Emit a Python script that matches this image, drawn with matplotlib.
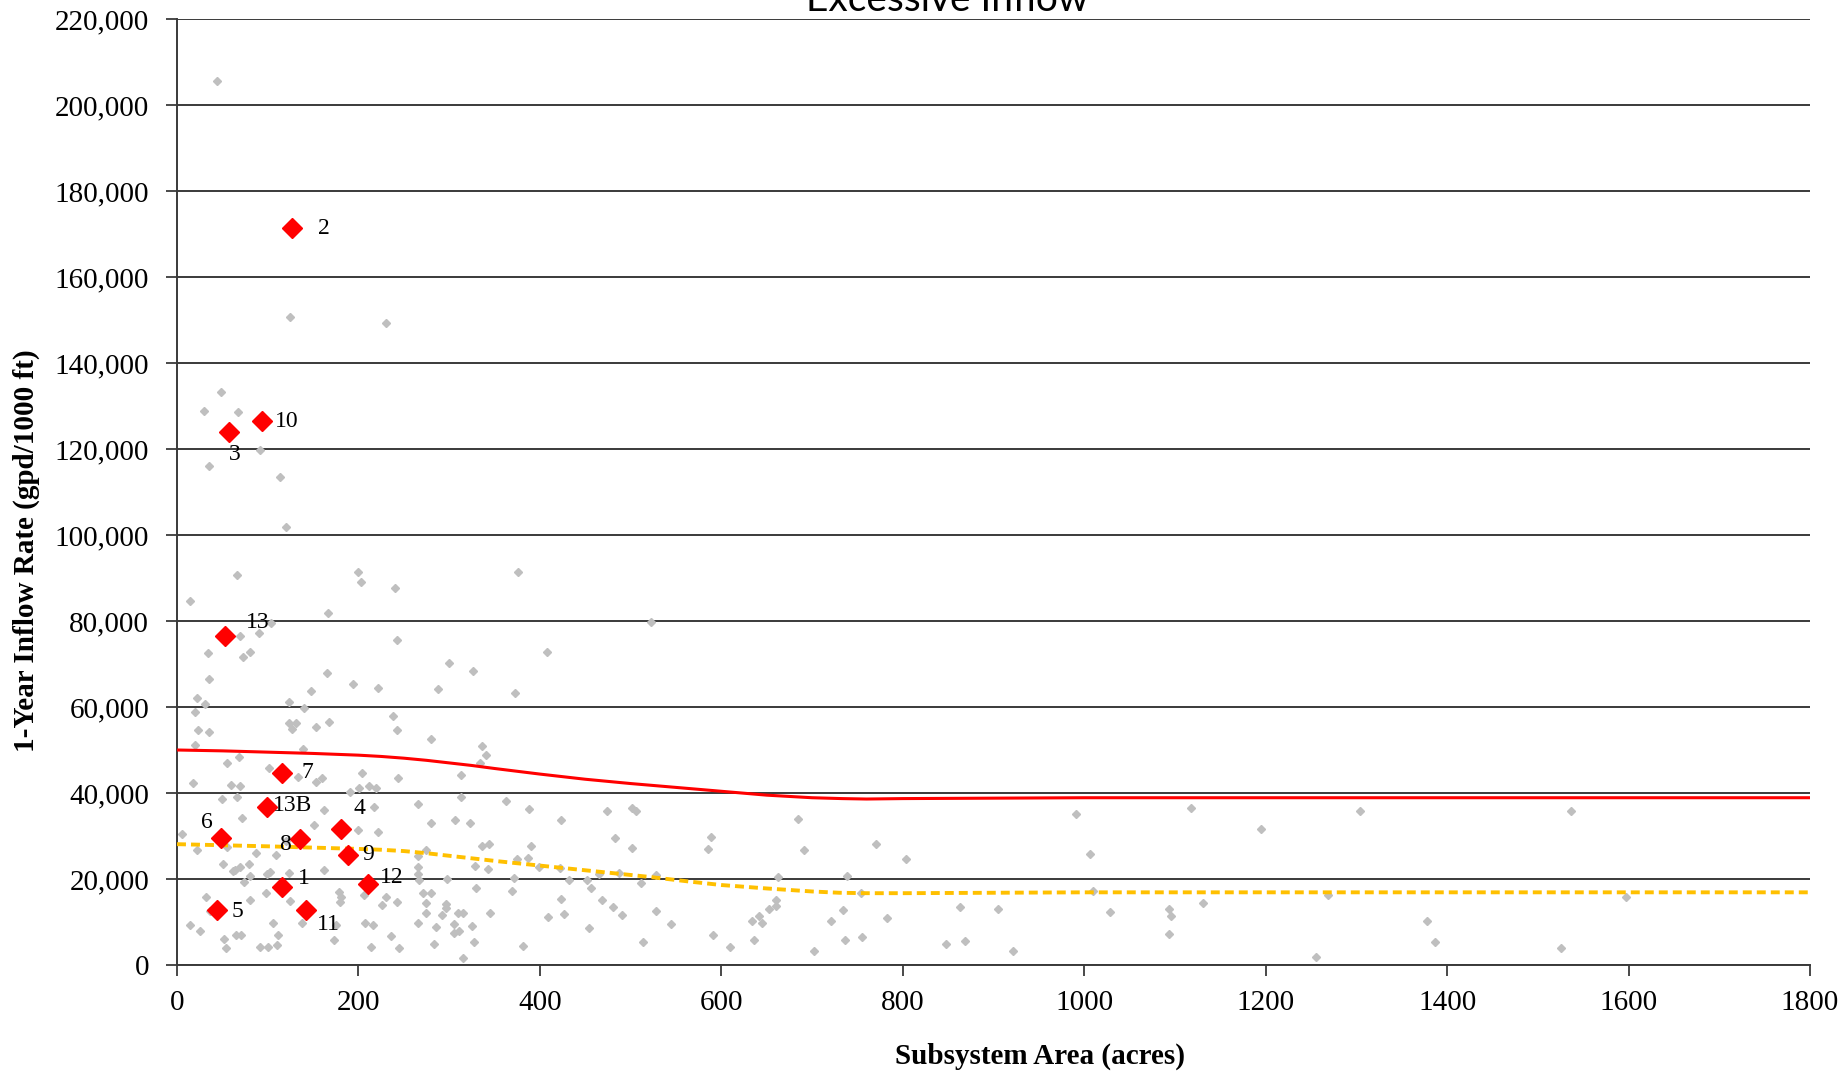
import numpy as np
import matplotlib
matplotlib.use("Agg")
import matplotlib.pyplot as plt
from matplotlib.ticker import FuncFormatter

# ---------------- data (values in thousands of gpd/1000 ft) ----------------
grey_acres = [
    44, 124.5, 230, 49, 29.7, 67, 91.5, 34.8, 113, 120.5,
    65.6, 14.3, 199, 203, 240, 166, 104, 90.5, 69, 243, 34.4, 80, 73, 165, 194, 222,
    35.5, 148, 22, 30.8, 19.8, 124, 140, 23.4, 35, 124, 131, 127, 153.5, 168, 238, 242,
    19.8, 139, 54.6, 68, 101, 18, 60, 69, 65.6, 133, 153.5, 160, 204, 201, 212, 219,
    244, 191, 50, 71.4, 162, 150.5, 217.6, 200, 222, 266, 5.5, 21.6, 55, 86.8, 108.8,
    120.5, 51, 64, 69, 62, 79, 102, 99.6, 124, 162, 73.6, 80, 98.5, 80, 125,
    179, 181, 180, 206, 230, 225.6, 243, 32, 36, 14.3, 25, 51.6, 53.5, 65, 70, 106, 111,
    110, 92, 100, 137.7, 173.6, 175, 207.7, 215.7, 214, 236, 245,
    376, 522.7, 408, 300, 326, 288, 373, 280, 336.6, 341, 333.7, 313, 313, 280, 306, 323,
    363, 388, 423.5, 474, 501, 506, 483, 501, 336.6, 344, 390, 275, 266, 266, 267, 266,
    328.6, 343, 375, 387, 399, 422.7, 371.4, 432.6, 452, 456.8, 465, 487, 512, 528, 298,
    270.7, 280, 275, 275, 297, 297, 292, 310, 315, 330, 369.6, 344.7, 266, 285, 305.5,
    305.5, 311, 325, 283.5, 327.5, 315, 381, 409, 423.5, 426.4, 468.5, 481, 491, 454.6,
    528, 544.7, 514,
    684.6, 588.4, 584.8, 690.6, 770, 804, 662.6, 738, 753.7, 660, 660, 652, 641.3, 633.3,
    644.3, 734, 720.7, 783, 591, 610, 636, 702, 736.4, 755, 863.6, 904.7, 847.4, 868.7,
    921.6, 991.4, 1006, 1009.7, 1028,
    1117.4, 1195, 1303.6, 1093, 1096, 1093, 1131, 1269, 1256, 1377.7, 1387,
    1536.5, 1597, 1525.8,
]
grey_rate_k = [
    205.6, 150.6, 149.2, 133.3, 128.9, 128.5, 119.8, 116, 113.6, 101.8,
    90.7, 84.7, 91.5, 89.1, 87.6, 81.8, 79.5, 77.3, 76.4, 75.6, 72.5, 72.9, 71.6, 68, 65.3, 64.5,
    66.4, 63.8, 62, 60.7, 58.8, 61.2, 59.7, 54.7, 54.3, 56.2, 56.2, 54.8, 55.3, 56.6, 58, 54.7,
    51.2, 50.2, 46.9, 48.4, 45.7, 42.4, 41.8, 41.6, 39.1, 43.8, 42.5, 43.4, 44.6, 41.1, 41.6, 41.1,
    43.4, 40.2, 38.5, 34.3, 36, 32.6, 36.8, 31.4, 31, 37.4, 30.4, 26.7, 27.4, 26.1, 25.6,
    28.8, 23.6, 22.2, 22.9, 21.9, 23.5, 21.7, 21.1, 21.3, 22.1, 19.4, 20.7, 16.8, 15.1, 15,
    17, 15.9, 14.7, 16.3, 15.9, 14, 14.7, 15.9, 12.6, 9.3, 7.8, 6, 3.9, 7, 7, 9.8, 7,
    4.7, 4.3, 4.3, 9.8, 5.8, 9.3, 9.7, 9.3, 4.1, 6.7, 3.9,
    91.3, 79.8, 72.7, 70.3, 68.3, 64.3, 63.3, 52.5, 51, 48.8, 46.9, 44.3, 39, 33, 33.7, 33,
    38.2, 36.2, 33.7, 35.7, 36.4, 35.7, 29.5, 27.3, 27.7, 28.1, 27.7, 26.7, 25.4, 22.9, 19.8, 21.1,
    23, 22.3, 24.6, 24.8, 22.9, 22.5, 20.3, 19.8, 19.8, 17.8, 21.2, 21.5, 19, 20.9, 20,
    16.7, 16.7, 14.5, 12.2, 14.3, 13.2, 11.6, 12.2, 12.2, 17.8, 17.3, 12.2, 9.8, 8.9, 9.5,
    7.4, 7.8, 9.1, 5, 5.3, 1.6, 4.4, 11.1, 15.3, 11.9, 15.1, 13.6, 11.6, 8.5,
    12.6, 9.5, 5.4,
    34, 29.8, 27, 26.7, 28.1, 24.7, 20.4, 20.6, 16.7, 15.1, 13.8, 13, 11.5, 10.2,
    9.7, 12.8, 10.2, 10.9, 7, 4.1, 5.8, 3.3, 5.8, 6.4, 13.6, 13.1, 5, 5.6,
    3.3, 35.1, 25.9, 17.1, 12.4,
    36.4, 31.7, 35.7, 13.1, 11.4, 7.2, 14.5, 16.3, 1.9, 10.2, 5.3,
    35.9, 15.7, 3.9,
]

red_labels = ['2', '10', '3', '13', '7', '13B', '6', '8', '4', '9', '1', '12', '5', '11']
red_acres = [127, 94, 57, 52.7, 116, 99.6, 49, 136, 181, 188, 116, 210, 43.6, 142.5]
red_rate_k = [171.3, 126.4, 124, 76.4, 44.6, 36.8, 29.6, 29.2, 31.6, 25.6, 18.2, 18.8, 12.8, 12.9]

curve_acres = [0, 50, 100, 150, 200, 225, 250, 275, 300, 325, 350, 400, 450, 500, 550, 600, 650,
               700, 733, 760, 800, 1000, 1200, 1400, 1600, 1800]
red_curve_k = [50.0, 49.8, 49.5, 49.2, 48.8, 48.5, 48.1, 47.6, 47.0, 46.4, 45.7, 44.4, 43.2, 42.2,
               41.3, 40.4, 39.5, 38.9, 38.7, 38.6, 38.7, 38.9, 38.9, 38.9, 38.9, 38.9]
yellow_acres = [0, 100, 150, 200, 225, 250, 275, 300, 355, 410, 465, 520, 565, 600, 650, 700,
                730, 760, 800, 1000, 1200, 1400, 1600, 1800]
yellow_curve_k = [28.1, 27.6, 27.3, 27.0, 26.8, 26.5, 26.0, 25.4, 24.1, 22.9, 21.7, 20.5, 19.4,
                  18.6, 17.8, 17.1, 16.8, 16.7, 16.7, 16.9, 16.9, 16.9, 16.9, 16.9]

y_ticks = list(range(0, 220001, 20000))
x_ticks = list(range(0, 1801, 200))

# label offsets in pixels (style only)
label_style = {
    '2': ((26, 0), 'left'), '10': ((13, 0), 'left'), '3': ((6, -23), 'center'),
    '13': ((21, 14), 'left'), '7': ((19, 1), 'left'), '13B': ((6, 1), 'left'),
    '6': ((-15, 15), 'center'), '8': ((-10, -5), 'right'), '4': ((18, 21), 'center'),
    '9': ((15, 0), 'left'), '1': ((16, 8), 'left'), '12': ((12, 7), 'left'),
    '5': ((15, -2), 'left'), '11': ((11, -15), 'left'),
}

# ---------------- figure ----------------
serif = ['Liberation Serif', 'DejaVu Serif']
plt.rcParams['font.family'] = serif

fig = plt.figure(figsize=(18.48, 10.71), dpi=100)
ax = fig.add_axes([177/1848, 1 - 965/1071, (1810-177)/1848, (965-19)/1071])

grid_c = '#3a3a3a'
ax.set_axisbelow(True)
ax.yaxis.grid(True, color=grid_c, lw=1.4)
ax.xaxis.grid(False)

gx = np.array(grey_acres)
gy = np.array(grey_rate_k) * 1000
ax.plot(gx, gy, linestyle='none', marker='D', ms=4.5, color='#BFBFBF', mec='#BFBFBF', zorder=2)

ax.plot(curve_acres, np.array(red_curve_k) * 1000, color='#FF0000', lw=2.2, zorder=3)
ax.plot(yellow_acres, np.array(yellow_curve_k) * 1000, color='#FFC000', lw=2.8,
        dashes=(2.3, 1.3), zorder=3)

rx = np.array(red_acres)
ry = np.array(red_rate_k) * 1000
ax.plot(rx, ry, linestyle='none', marker='D', ms=10, color='#FF0000', mec='#FF0000', zorder=4)

for lab, x, y in zip(red_labels, rx, ry):
    (dx, dy), ha = label_style[lab]
    ax.annotate(lab, (x, y), xytext=(dx, dy), textcoords='offset pixels',
                ha=ha, va='center', fontsize=17, color='black', zorder=5)

ax.set_xlim(0, 1800)
ax.set_ylim(0, 220000)
ax.set_xticks(x_ticks)
ax.set_yticks(y_ticks)
ax.yaxis.set_major_formatter(FuncFormatter(lambda v, p: f"{int(v):,}"))
ax.tick_params(axis='both', direction='out', length=8, width=1.3, color=grid_c,
               labelsize=21, labelcolor='black')
ax.tick_params(axis='x', pad=10)
ax.tick_params(axis='y', pad=12)

for s in ['top', 'right']:
    ax.spines[s].set_visible(False)
for s in ['left', 'bottom']:
    ax.spines[s].set_color(grid_c)
    ax.spines[s].set_linewidth(1.4)

fig.text(1040/1848, 1 - 1056/1071, 'Subsystem Area (acres)', ha='center', va='center',
         fontsize=21, fontweight='bold')
fig.text(26/1848, 1 - 551/1071, '1-Year Inflow Rate (gpd/1000 ft)', ha='center', va='center',
         rotation=90, fontsize=21, fontweight='bold')
fig.text(947/1848, 1 - 11/1071, 'Excessive Inflow', ha='center', va='baseline',
         fontsize=28, family=['Lato', 'DejaVu Sans'])

fig.savefig('out.png', dpi=100, facecolor='white')
